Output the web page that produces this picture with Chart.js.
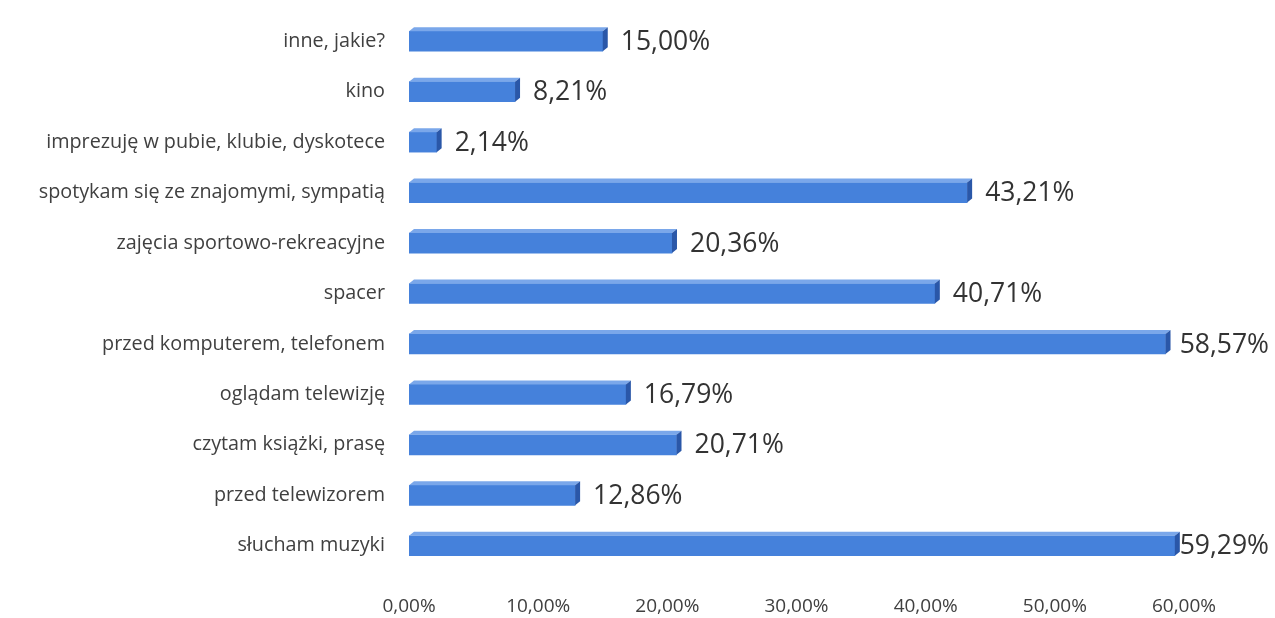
<!DOCTYPE html>
<html lang="pl">
<head>
  <meta charset="UTF-8" />
  <title>Czas wolny</title>
  <script src="https://cdn.jsdelivr.net/npm/chart.js"></script>
  <style>
    html, body { margin: 0; padding: 0; background: #fff; }
    #wrap { width: 1275px; height: 618px; }
  </style>
</head>
<body>
  <div id="wrap"><canvas id="chart"></canvas></div>

  <script>
    // categories, top to bottom
    const labels = [
      "inne, jakie?",
      "kino",
      "imprezuję w pubie, klubie, dyskotece",
      "spotykam się ze znajomymi, sympatią",
      "zajęcia sportowo-rekreacyjne",
      "spacer",
      "przed komputerem, telefonem",
      "oglądam telewizję",
      "czytam książki, prasę",
      "przed telewizorem",
      "słucham muzyki"
    ];
    const values = [15.00, 8.21, 2.14, 43.21, 20.36, 40.71, 58.57, 16.79, 20.71, 12.86, 59.29];
    const xTicks = [0, 10, 20, 30, 40, 50, 60];

    const FONT = "'Open Sans', sans-serif";
    const fmt = v => v.toFixed(2).replace(".", ",") + "%";

    // fake 3D: top and side faces + value labels
    const bar3d = {
      id: "bar3d",
      afterDatasetsDraw(chart) {
        const ctx = chart.ctx;
        const d = 5;
        chart.getDatasetMeta(0).data.forEach((bar, i) => {
          const top = bar.y - bar.height / 2;
          const bot = bar.y + bar.height / 2;
          ctx.save();
          ctx.fillStyle = "#7aa7ea";
          ctx.beginPath();
          ctx.moveTo(bar.base, top);
          ctx.lineTo(bar.x, top);
          ctx.lineTo(bar.x + d, top - d + 1);
          ctx.lineTo(bar.base + d, top - d + 1);
          ctx.closePath();
          ctx.fill();
          ctx.fillStyle = "#2a57a8";
          ctx.beginPath();
          ctx.moveTo(bar.x, top);
          ctx.lineTo(bar.x + d, top - d + 1);
          ctx.lineTo(bar.x + d, bot - d + 1);
          ctx.lineTo(bar.x, bot);
          ctx.closePath();
          ctx.fill();

          ctx.font = "26.5px " + FONT;
          ctx.fillStyle = "#333";
          ctx.textBaseline = "middle";
          const txt = fmt(values[i]);
          let tx = bar.x + d + 13;
          const w = ctx.measureText(txt).width;
          if (tx + w > chart.width - 6) tx = chart.width - 6 - w;
          ctx.fillText(txt, tx, bar.y + 1);
          ctx.restore();
        });
      }
    };

    new Chart(document.getElementById("chart"), {
      type: "bar",
      data: {
        labels: labels,
        datasets: [{
          data: values,
          backgroundColor: "#4581db",
          borderWidth: 0,
          barThickness: 20
        }]
      },
      options: {
        indexAxis: "y",
        responsive: true,
        maintainAspectRatio: false,
        animation: false,
        layout: { padding: { top: 16, right: 91, bottom: 0, left: 0 } },
        plugins: { legend: { display: false }, tooltip: { enabled: false } },
        scales: {
          x: {
            min: 0, max: 60,
            afterBuildTicks: s => { s.ticks = xTicks.map(v => ({ value: v })); },
            afterFit: s => { s.height = 47; },
            grid: { display: false, drawTicks: false },
            border: { display: false },
            ticks: {
              padding: 24,
              color: "#404040",
              font: { family: FONT, size: 19 },
              callback: v => fmt(v)
            }
          },
          y: {
            afterFit: s => { s.width = 409; s.paddingTop = 0; s.paddingBottom = 0; },
            grid: { display: false, drawTicks: false },
            border: { display: false },
            ticks: {
              padding: 24,
              color: "#404040",
              font: { family: FONT, size: 19.8 }
            }
          }
        }
      },
      plugins: [bar3d]
    });
  </script>
</body>
</html>
